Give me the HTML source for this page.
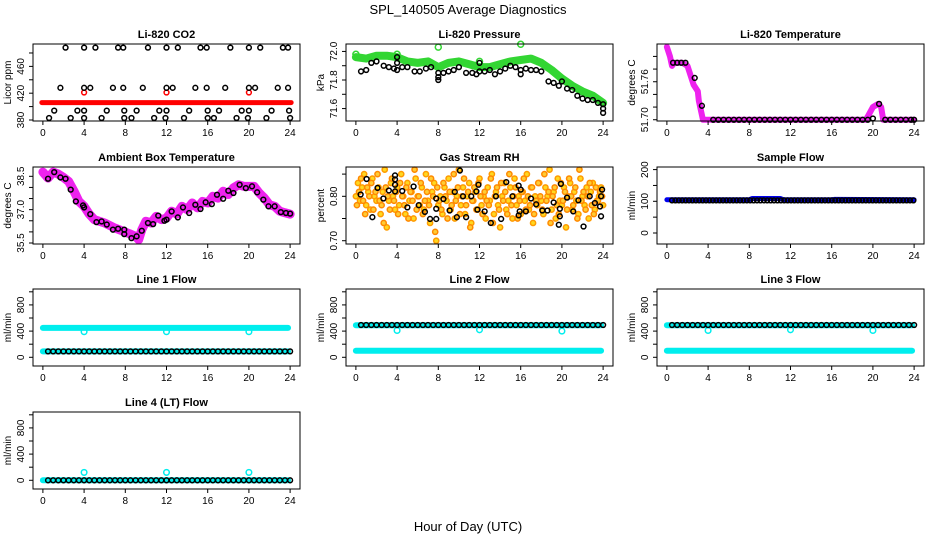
<!DOCTYPE html>
<html><head><meta charset="utf-8"><style>
html,body{margin:0;padding:0;background:#fff;}
svg{display:block;font-family:"Liberation Sans",Arial,sans-serif;}
</style></head><body>
<svg id="chart" width="936" height="540" viewBox="0 0 936 540" xmlns="http://www.w3.org/2000/svg">
<text x="468" y="14" text-anchor="middle" font-size="13">SPL_140505  Average Diagnostics</text>
<text x="468" y="531" text-anchor="middle" font-size="13">Hour of Day (UTC)</text>
</svg>
<script>
// ---- data ----
const xTicks = [0,4,8,12,16,20,24];
// CO2
const co2RedLevel = 406;
const co2RedSpikeHours = [4,12,20];
const co2RedSpikeVals = [421,421,421];
const co2Hours491 = [2.2,4.0,5.1,7.3,7.8,10.2,12.0,13.1,15.3,15.9,18.2,20.0,21.1,23.3,23.8];
const co2Hours428 = [1.7,4.0,4.6,6.8,7.8,9.7,12.0,12.6,14.8,15.9,17.7,20.0,20.6,22.8,23.8];
const co2Hours394 = [1.1,3.35,4.0,6.2,7.9,9.1,11.3,12.0,14.2,16.0,17.1,19.3,20.0,22.2,23.9];
const co2Hours383 = [0.6,2.7,4.0,5.7,7.9,8.6,10.8,11.9,13.7,16.0,16.6,18.8,19.9,21.7,24.0];
const co2Levels = [488,428,394,383];
// Pressure
const presGreenHours = [0,1,2,3,4,5,6,7,8,9,10,11,12,13,14,15,16,17,18,19,20,21,22,23,24];
const presGreenVals = [71.96,71.95,71.97,71.97,71.96,71.93,71.92,71.93,71.89,71.92,71.93,71.91,71.89,71.89,71.91,71.93,71.94,71.95,71.92,71.87,71.81,71.76,71.72,71.69,71.64];
const presSpikeHours = [0,4,8,12,16];
const presSpikeVals = [71.98,71.98,72.03,71.93,72.05];
const presBlackHours = [0.5,1,1.5,2,2.7,3.2,3.7,4,4,4,4.5,5,5.7,6.2,6.8,7.3,8,8,8,8.5,9,9.5,10,10.7,11.3,11.7,12,12,12.5,13,13.5,14,14.5,15,15.5,16,16,16.5,17,17.5,18,18.7,19.2,19.7,20,20.5,21,21.5,22,22.5,23,23.5,24,24,24];
const presBlackVals = [71.86,71.87,71.92,71.93,71.9,71.89,71.88,71.96,71.92,71.87,71.89,71.89,71.86,71.86,71.88,71.89,71.85,71.82,71.80,71.85,71.86,71.87,71.89,71.85,71.85,71.84,71.92,71.86,71.86,71.87,71.84,71.86,71.88,71.9,71.89,71.87,71.84,71.88,71.87,71.87,71.86,71.79,71.78,71.76,71.79,71.74,71.73,71.69,71.67,71.66,71.66,71.64,71.63,71.6,71.57];
// Li-820 temperature
const ltHours = [0,0.3,0.5,0.7,1,1.5,2,2.3,2.6,3,3.1,3.3,3.5,4,19.3,19.5,20,20.5,20.8,21,24];
const ltVals = [51.815,51.80,51.785,51.79,51.79,51.79,51.785,51.77,51.755,51.745,51.73,51.715,51.70,51.70,51.70,51.705,51.72,51.725,51.72,51.70,51.70];
const ltBlackHours = [0.6,1.0,1.4,1.8,2.7,3.4,4.5,5,5.5,6,6.5,7,7.5,8,8.5,9,9.5,10,10.5,11,11.5,12,12.5,13,13.5,14,14.5,15,15.5,16,16.5,17,17.5,18,18.5,19,19.5,20,20.6,21.2,21.7,22.2,22.7,23.2,23.7,24];
const ltBlackVals = [51.79,51.79,51.79,51.79,51.766,51.722,51.70,51.70,51.70,51.70,51.70,51.70,51.70,51.70,51.70,51.70,51.70,51.70,51.70,51.70,51.70,51.70,51.70,51.70,51.70,51.70,51.70,51.70,51.70,51.70,51.70,51.70,51.70,51.70,51.70,51.70,51.70,51.702,51.725,51.70,51.70,51.70,51.70,51.70,51.70,51.70];
// Ambient box temperature
const ambHours = [0,0.5,1,1.5,2,2.5,3,3.5,4,4.5,5,6,7,8,8.5,9,9.3,9.6,10,10.5,11,11.5,12,12.5,13,13.5,14,14.5,15,15.5,16,16.5,17,17.5,18,18.5,19,19.5,20,20.5,21,21.5,22,22.5,23,23.5,24];
const ambVals = [38.69,38.42,38.69,38.6,38.45,38.27,37.85,37.37,37.15,36.8,36.55,36.4,36.17,35.99,35.9,35.8,35.65,36.1,36.48,36.4,36.7,36.55,36.62,36.93,36.8,37.15,37.0,37.3,37.08,37.37,37.3,37.6,37.52,37.83,37.68,37.98,38.12,38.05,38.05,38.05,37.75,37.52,37.22,37.15,36.93,36.86,36.8];
const ambBlackHours = [0.5,1.1,1.7,2.2,2.7,3.2,3.9,4.0,4.6,5.2,5.7,6.2,6.8,7.3,7.9,7.9,8.6,9.1,9.6,10.2,10.7,11.2,11.8,12,12.5,13.1,13.6,14.2,14.8,15.3,15.8,16.4,16.9,17.5,18,18.5,19.1,19.7,20.3,20.8,21.4,21.9,22.5,23.1,23.6,24];
const ambBlackVals = [38.39,38.69,38.45,38.39,37.90,37.37,37.19,37.1,36.80,36.44,36.47,36.33,36.10,36.14,36.10,35.90,35.72,35.8,36.05,36.4,36.35,36.73,36.5,36.55,36.92,36.65,37.1,36.85,37.22,37.03,37.33,37.25,37.67,37.49,37.85,37.75,38.12,37.97,38.05,37.78,37.45,37.15,37.15,36.89,36.85,36.82];
// Gas stream RH
const rhOrangeA = [0.80,0.83,0.79,0.82,0.85,0.78,0.81,0.77,0.84,0.80,0.79,0.82,0.76,0.81,0.86,0.73,0.79,0.83,0.80,0.77,0.82,0.78,0.85,0.80,0.76,0.83,0.79,0.81,0.75,0.84,0.80,0.78,0.82,0.77,0.85,0.79,0.74,0.81,0.83,0.70,0.78,0.80,0.76,0.82,0.79,0.84,0.77,0.81,0.75,0.80,0.86,0.78,0.82,0.76,0.80,0.83,0.74,0.79,0.81,0.77,0.84,0.78,0.80,0.75,0.82,0.79,0.85,0.76,0.81,0.78,0.73,0.80,0.83,0.77,0.79,0.82,0.75,0.84,0.78,0.80,0.76,0.81,0.79,0.85,0.77,0.82,0.74,0.80,0.78,0.83,0.79,0.76,0.82,0.80,0.86,0.77,0.81,0.75,0.84,0.79,0.78,0.82,0.73,0.80,0.83,0.77,0.81,0.79,0.76,0.84,0.80,0.78,0.82,0.75,0.81,0.83,0.77,0.79,0.80,0.82,0.78];
const rhOrangeB = [0.78,0.81,0.84,0.79,0.76,0.82,0.80,0.83,0.77,0.81,0.85,0.79,0.78,0.74,0.82,0.80,0.77,0.84,0.79,0.81,0.76,0.83,0.80,0.78,0.82,0.75,0.81,0.79,0.86,0.77,0.80,0.83,0.76,0.79,0.81,0.78,0.84,0.80,0.72,0.82,0.79,0.77,0.83,0.80,0.75,0.81,0.78,0.85,0.79,0.82,0.76,0.80,0.84,0.78,0.81,0.73,0.79,0.82,0.77,0.83,0.80,0.76,0.81,0.79,0.78,0.84,0.74,0.80,0.82,0.77,0.83,0.79,0.81,0.76,0.85,0.78,0.80,0.82,0.75,0.79,0.81,0.84,0.77,0.80,0.78,0.82,0.76,0.79,0.83,0.80,0.77,0.85,0.79,0.81,0.74,0.80,0.82,0.78,0.76,0.83,0.79,0.81,0.77,0.84,0.80,0.78,0.82,0.75,0.86,0.79,0.81,0.77,0.80,0.83,0.78,0.76,0.82,0.79,0.81,0.80];
const rhOrangeStep = 0.2;
const rhBlackHours = [0.46,1.04,1.6,2.1,2.67,3.2,3.8,3.8,3.8,3.8,4.5,5.0,5.6,6.1,6.7,7.2,7.8,7.8,7.8,8.5,9.1,9.6,9.8,10.1,10.4,10.7,11.2,11.7,11.9,11.8,12.5,13.1,13.6,14.1,14.6,15.2,15.8,16.0,15.9,15.8,16.5,17.0,17.5,18.1,18.6,19.2,19.8,19.8,19.7,19.9,20.5,21.1,21.6,22.1,22.7,23.2,23.7,23.8,23.8,23.9];
const rhBlackVals = [0.804,0.839,0.753,0.819,0.795,0.813,0.847,0.838,0.826,0.811,0.812,0.775,0.822,0.78,0.765,0.749,0.749,0.772,0.795,0.794,0.768,0.81,0.753,0.858,0.80,0.753,0.80,0.811,0.826,0.77,0.766,0.74,0.80,0.749,0.832,0.80,0.824,0.815,0.766,0.757,0.766,0.795,0.782,0.768,0.768,0.786,0.772,0.755,0.736,0.828,0.797,0.766,0.791,0.732,0.80,0.785,0.777,0.755,0.80,0.815];
// Sample flow
const sfBlueHours = [0,8,8.3,11,11.3,16,16.3,24];
const sfBlueVals = [105,105,109,109,105,105,106,105];
const sfBlackLevel = 103;
// Line flows
const l1Cyan = [450,90]; const l1Black = 90; const l1SpikeVals = [390,390,390];
const l2Cyan = [490,100]; const l2Black = 493; const l2SpikeVals = [410,420,400];
const l3Cyan = [490,100]; const l3Black = 493; const l3SpikeVals = [410,420,410];
const l4Cyan = [0]; const l4Black = 0; const l4SpikeVals = [120,120,120];
const spikeHours = [4,12,20];

// ---- drawing ----
const NS='http://www.w3.org/2000/svg';
const svg=document.getElementById('chart');
function el(tag,attrs,parent){const e=document.createElementNS(NS,tag);for(const k in attrs)e.setAttribute(k,attrs[k]);(parent||svg).appendChild(e);return e;}
const cols=[33,346,657], rows=[44,167,289,412], W=267, H=77;
function panel(name,c,r,title,ylab,ymin,ymax,ticks,labels){
  const L=cols[c],T=rows[r],B=T+H,R=L+W;
  const g=el('g',{});
  
  
  const sx=h=>L+(h+0.96)/25.92*W;
  const sy=v=>B-(v-ymin)/(ymax-ymin)*H;
  const t=el('text',{x:(L+R)/2,y:T-6,'text-anchor':'middle','font-size':11,'font-weight':'bold'},g);t.textContent=title;
  
  
  const plot=el('g',{},g);
  
  
  // x axis
  const xa=el('g',{stroke:'#000','stroke-width':1},g);
  
  
  xTicks.forEach(h=>{el('line',{x1:sx(h),x2:sx(h),y1:B,y2:B+4},xa);
    const tx=el('text',{x:sx(h),y:B+15,'text-anchor':'middle','font-size':10,stroke:'none'},xa);tx.textContent=h;});
  // y axis
  const ya=el('g',{stroke:'#000','stroke-width':1},g);
  
  
  ticks.forEach(v=>el('line',{x1:L-4,x2:L,y1:sy(v),y2:sy(v)},ya));
  labels.forEach(lb=>{const y=sy(parseFloat(lb));const tx=el('text',{x:L-9,y:y,'text-anchor':'middle','font-size':10,stroke:'none',transform:`rotate(-90 ${L-9} ${y})`},ya);tx.textContent=lb;});
  const yt=el('text',{x:L-22,y:(T+B)/2,'text-anchor':'middle','font-size':10,transform:`rotate(-90 ${L-22} ${(T+B)/2})`},g);yt.textContent=ylab;
  
  
  el('rect',{x:L,y:T,width:W,height:H,fill:'none',stroke:'#000','stroke-width':1},g);
  return {sx,sy,plot};
}
function band(p,hs,vs,color,w,name){
  const pl=el('polyline',{points:hs.map((h,i)=>p.sx(h)+','+p.sy(vs[i])).join(' '),fill:'none',stroke:color,'stroke-width':w,'stroke-linecap':'round','stroke-linejoin':'round'},p.plot);
  
  
}
function pts(p,hs,vs,color,name,r,fill){
  const g=el('g',{},p.plot);
  
  
  hs.forEach((h,i)=>el('circle',{cx:p.sx(h),cy:p.sy(vs[i]),r:r||2.4,fill:fill||'none',stroke:color,'stroke-width':1.5},g));
}
function steps(a,b,s){const o=[];for(let h=a;h<=b+1e-9;h+=s)o.push(h);return o;}

// CO2
let p=panel('co2',0,0,'Li-820 CO2','Licor ppm',378.5,493.4,[380,400,420,440,460,480],['380','420','460']);
band(p,[-0.1,24.1],[co2RedLevel,co2RedLevel],'#ff0000',5,'co2-red-series');
pts(p,co2RedSpikeHours,co2RedSpikeVals,'#ff0000','co2-red-outliers');
[co2Hours491,co2Hours428,co2Hours394,co2Hours383].forEach((hs,k)=>pts(p,hs,hs.map(()=>co2Levels[k]),'#000','co2-black-level-'+k));
// Pressure
p=panel('pressure',1,0,'Li-820 Pressure','kPa',71.513,72.052,[71.6,71.7,71.8,71.9,72.0],['71.6','71.8','72.0']);
band(p,presGreenHours,presGreenVals,'#33d633',8,'pressure-green-series');
pts(p,presSpikeHours,presSpikeVals,'#33d633','pressure-green-spikes',3);
pts(p,presBlackHours,presBlackVals,'#000','pressure-black-series');
// Li temp
p=panel('li820-temp',2,0,'Li-820 Temperature','degrees C',51.698,51.8196,[51.70,51.72,51.74,51.76,51.78,51.80],['51.70','51.76']);
band(p,ltHours,ltVals,'#ee22ee',6,'li820-temp-magenta-series');
pts(p,ltBlackHours,ltBlackVals,'#000','li820-temp-black-series');
// Ambient
p=panel('ambient-temp',0,1,'Ambient Box Temperature','degrees C',35.455,38.919,[35.5,36,36.5,37,37.5,38,38.5],['35.5','37.0','38.5']);
band(p,ambHours,ambVals,'#ee22ee',9,'ambient-magenta-series');
pts(p,ambBlackHours,ambBlackVals,'#000','ambient-black-series');
// RH
p=panel('gas-rh',1,1,'Gas Stream RH','percent',0.6926,0.866,[0.70,0.75,0.80,0.85],['0.70','0.80']);
pts(p,rhOrangeA.map((v,i)=>i*rhOrangeStep),rhOrangeA,'#ff9a00','rh-orange-series-a',2.6,'#ffd820');
pts(p,rhOrangeB.map((v,i)=>0.1+i*rhOrangeStep),rhOrangeB,'#ff8800','rh-orange-series-b',2.6,'#ffcc33');
pts(p,rhBlackHours,rhBlackVals,'#000','rh-black-series');
// Sample flow
p=panel('sample-flow',2,1,'Sample Flow','ml/min',-34.7,208.2,[0,50,100,150,200],['0','100','200']);
band(p,sfBlueHours,sfBlueVals,'#0000ee',5,'sample-flow-blue-series');
let bh=steps(0.5,24,0.33);
pts(p,bh,bh.map(()=>sfBlackLevel),'#000','sample-flow-black-series');
// Line flows
const fTicks=[0,200,400,600,800,1000], fLab=['0','400','800'];
[['line1-flow',0,2,'Line 1 Flow',l1Cyan,l1Black,l1SpikeVals],
 ['line2-flow',1,2,'Line 2 Flow',l2Cyan,l2Black,l2SpikeVals],
 ['line3-flow',2,2,'Line 3 Flow',l3Cyan,l3Black,l3SpikeVals],
 ['line4-flow',0,3,'Line 4 (LT) Flow',l4Cyan,l4Black,l4SpikeVals]].forEach(cfg=>{
  const q=panel(cfg[0],cfg[1],cfg[2],cfg[3],'ml/min',-133,1043,fTicks,fLab);
  cfg[4].forEach((lv,k)=>band(q,[0,23.8],[lv,lv],'#00eeee',6,cfg[0]+'-cyan-series-'+k));
  pts(q,spikeHours,cfg[6],'#00eeee',cfg[0]+'-cyan-outliers',2.8);
  const hs=steps(0.5,24,0.5);
  pts(q,hs,hs.map(()=>cfg[5]),'#000',cfg[0]+'-black-series');
});
</script>
</body></html>
